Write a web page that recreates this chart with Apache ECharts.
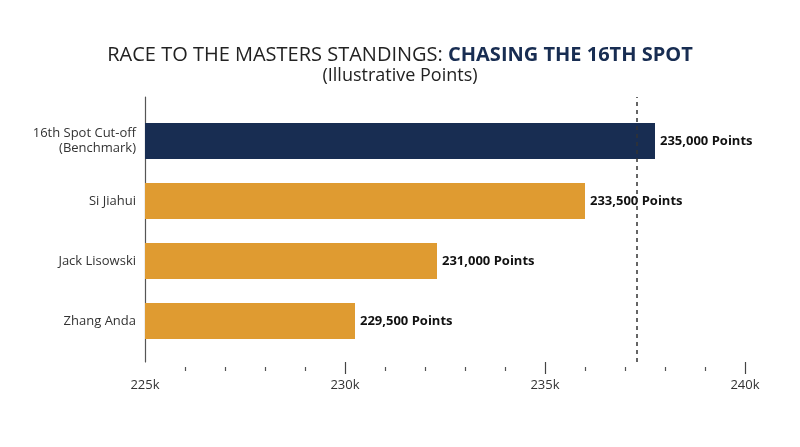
<!DOCTYPE html>
<html>
<head>
<meta charset="utf-8">
<script src="https://cdn.jsdelivr.net/npm/echarts@6/dist/echarts.min.js"></script>
<style>html,body{margin:0;padding:0;background:#fff;}#c{width:800px;height:447px;}</style>
</head>
<body>
<div id="c"></div>
<script>
const categories = ['16th Spot Cut-off\n(Benchmark)', 'Si Jiahui', 'Jack Lisowski', 'Zhang Anda'];
const barValues = [237750, 236000, 232300, 230250];
const pointLabels = ['235,000 Points', '233,500 Points', '231,000 Points', '229,500 Points'];
const barColors = ['#182d52', '#df9b31', '#df9b31', '#df9b31'];
const cutoffValue = 237300;
const axisMin = 225000, axisMax = 240000, axisStep = 5000;
const majorTickValues = [230000, 235000, 240000];

const FONT = 'Open Sans';
const chart = echarts.init(document.getElementById('c'), null, {renderer: 'canvas'});
chart.setOption({
  backgroundColor: '#fff',
  animation: false,
  title: {
    left: 'center', top: 40,
    text: '{a|RACE TO THE MASTERS STANDINGS: }{b|CHASING THE 16TH SPOT}',
    textStyle: {
      rich: {
        a: {fontFamily: FONT, fontSize: 20, color: '#222', fontWeight: 'normal'},
        b: {fontFamily: FONT, fontSize: 20, color: '#182d52', fontWeight: 'bold'}
      }
    },
    subtext: '(Illustrative Points)',
    itemGap: 2,
    subtextStyle: {fontFamily: FONT, fontSize: 18, color: '#222'}
  },
  grid: [
    {left: 145, width: 600, top: 111, height: 240},
    {left: 145, width: 600, top: 97, height: 265}
  ],
  xAxis: [
    {gridIndex: 0, type: 'value', min: axisMin, max: axisMax, interval: axisStep, show: false},
    {gridIndex: 1, type: 'value', position: 'bottom', min: axisMin, max: axisMax, interval: axisStep,
      axisLine: {show: false}, splitLine: {show: false},
      axisTick: {show: true, length: 12, customValues: majorTickValues, lineStyle: {color: '#444', width: 1.2}},
      axisLabel: {margin: 17, fontFamily: FONT, fontSize: 13, color: '#333',
        formatter: v => (v / 1000) + 'k'}
    },
    {gridIndex: 1, type: 'value', position: 'bottom', min: axisMin, max: axisMax, interval: axisStep, offset: 5,
      axisLine: {show: false}, splitLine: {show: false}, axisTick: {show: false},
      axisLabel: {show: false},
      minorTick: {show: true, splitNumber: 5, length: 4, lineStyle: {color: '#555', width: 1.2}}
    }
  ],
  yAxis: [
    {gridIndex: 0, type: 'category', data: categories, inverse: true,
      axisLine: {show: false}, axisTick: {show: false}, splitLine: {show: false},
      axisLabel: {margin: 9, fontFamily: FONT, fontSize: 13, color: '#333', lineHeight: 15, align: 'right'}
    },
    {gridIndex: 1, type: 'value', min: 0, max: 1,
      axisLine: {show: true, onZero: false, lineStyle: {color: '#555', width: 1.2}},
      axisTick: {show: false}, axisLabel: {show: false}, splitLine: {show: false}
    }
  ],
  series: [
    {type: 'bar', xAxisIndex: 0, yAxisIndex: 0, barWidth: 36,
      data: barValues.map((v, i) => ({value: v, itemStyle: {color: barColors[i]}})),
      label: {show: true, position: 'right', distance: 5, fontFamily: FONT, fontSize: 13,
        fontWeight: 'bold', color: '#111', formatter: p => pointLabels[p.dataIndex]}
    },
    {type: 'line', xAxisIndex: 1, yAxisIndex: 1, data: [], silent: true,
      markLine: {symbol: 'none', silent: true, label: {show: false},
        lineStyle: {type: [4, 4], color: '#333', width: 1.5},
        data: [{xAxis: cutoffValue}]}
    }
  ]
});
</script>
</body>
</html>
